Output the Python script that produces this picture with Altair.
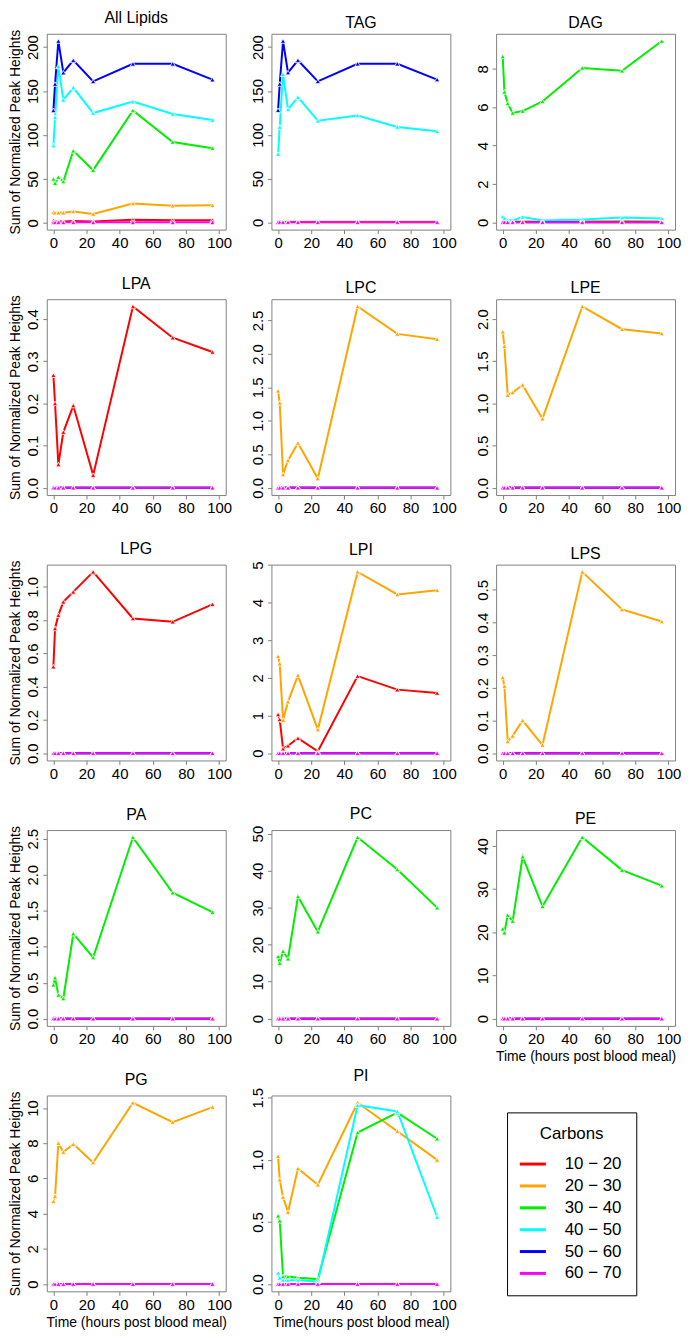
import altair as alt
import pandas as pd

TIME = [0, 1, 3, 6, 12, 24, 48, 72, 96]
X_TICKS = [0, 20, 40, 60, 80, 100]
CARBONS = ["10 − 20", "20 − 30", "30 − 40", "40 − 50", "50 − 60", "60 − 70"]
COLORS = ["#FF0000", "#FFA500", "#00EE00", "#00FFFF", "#0000FF", "#FF00FF"]
ZERO = [0, 0, 0, 0, 0, 0, 0, 0, 0]

# All Lipids
ALL_10_20 = [2.5, 2.0, 1.5, 1.5, 2.0, 1.5, 3.5, 3.0, 3.0]
ALL_20_30 = [12, 11.5, 11.5, 11.5, 13, 10, 22, 19.5, 20]
ALL_30_40 = [50, 45, 52, 47, 82, 60, 128, 92, 85]
ALL_40_50 = [88, 120, 178, 140, 154, 125, 138, 124, 117]
ALL_50_60 = [128, 158, 207, 171, 185, 161, 181, 181, 163]
ALL_60_70 = [0.5, 0.5, 0.5, 0.5, 0.5, 0.5, 0.5, 0.5, 0.5]
# TAG
TAG_10_20 = [0.1, 0.1, 0.1, 0.1, 0.1, 0.1, 0.1, 0.1, 0.1]
TAG_20_30 = [0.3, 0.3, 0.3, 0.3, 0.3, 0.3, 0.3, 0.3, 0.3]
TAG_30_40 = [0.8, 0.7, 0.8, 0.7, 0.8, 0.7, 0.9, 0.8, 0.8]
TAG_40_50 = [78, 109, 169, 129, 143, 116, 122, 109, 104]
TAG_50_60 = [128, 158, 207, 171, 185, 161, 181, 181, 163]
TAG_60_70 = [0.4, 0.4, 0.4, 0.4, 0.4, 0.4, 0.4, 0.4, 0.4]
# DAG
DAG_10_20 = [0.02, 0.02, 0.02, 0.02, 0.02, 0.02, 0.02, 0.02, 0.02]
DAG_20_30 = [0.06, 0.06, 0.05, 0.05, 0.06, 0.05, 0.06, 0.07, 0.06]
DAG_30_40 = [8.65, 6.8, 6.2, 5.7, 5.8, 6.3, 8.05, 7.9, 9.45]
DAG_40_50 = [0.3, 0.2, 0.12, 0.1, 0.28, 0.1, 0.15, 0.25, 0.2]
DAG_60_70 = [0.01, 0.01, 0.01, 0.01, 0.01, 0.01, 0.01, 0.01, 0.01]
# Lyso lipids
LPA_10_20 = [0.267, 0.2, 0.055, 0.132, 0.195, 0.03, 0.43, 0.356, 0.322]
LPC_20_30 = [1.45, 1.27, 0.2, 0.41, 0.67, 0.14, 2.71, 2.3, 2.22]
LPE_20_30 = [1.85, 1.68, 1.1, 1.13, 1.22, 0.82, 2.15, 1.88, 1.83]
LPG_10_20 = [0.52, 0.75, 0.83, 0.91, 0.97, 1.09, 0.81, 0.79, 0.895]
LPI_10_20 = [1.03, 0.9, 0.12, 0.2, 0.4, 0.05, 2.05, 1.69, 1.6]
LPI_20_30 = [2.58, 2.38, 0.88, 1.37, 2.07, 0.63, 4.82, 4.22, 4.33]
LPS_20_30 = [0.232, 0.205, 0.036, 0.053, 0.1, 0.025, 0.555, 0.44, 0.403]
# Phospholipids
PA_30_40 = [0.47, 0.57, 0.33, 0.28, 1.18, 0.85, 2.52, 1.75, 1.48]
PC_30_40 = [16.8, 15.0, 18.2, 16.2, 33.0, 23.5, 49.0, 40.3, 30.0]
PE_30_40 = [20.8, 19.9, 24.0, 22.6, 37.5, 26.0, 42.0, 34.4, 30.8]
PG_20_30 = [4.7, 5.0, 8.0, 7.5, 7.95, 6.9, 10.3, 9.2, 10.05]
PI_20_30 = [1.03, 0.84, 0.7, 0.58, 0.93, 0.8, 1.46, 1.23, 1.0]
PI_30_40 = [0.55, 0.51, 0.06, 0.06, 0.05, 0.04, 1.22, 1.38, 1.17]
PI_40_50 = [0.09, 0.05, 0.03, 0.03, 0.03, 0.02, 1.44, 1.39, 0.54]

# y tick labels per panel
T_ALL = [0, 50, 100, 150, 200]
T_DAG = [0, 2, 4, 6, 8]
T_LPA = [0.0, 0.1, 0.2, 0.3, 0.4]
T_LPC = [0.0, 0.5, 1.0, 1.5, 2.0, 2.5]
T_LPE = [0.0, 0.5, 1.0, 1.5, 2.0]
T_LPG = [0.0, 0.2, 0.4, 0.6, 0.8, 1.0]
T_LPI = [0, 1, 2, 3, 4, 5]
T_LPS = [0.0, 0.1, 0.2, 0.3, 0.4, 0.5]
T_PA = [0.0, 0.5, 1.0, 1.5, 2.0, 2.5]
T_PC = [0, 10, 20, 30, 40, 50]
T_PE = [0, 10, 20, 30, 40]
T_PG = [0, 2, 4, 6, 8, 10]
T_PI = [0.0, 0.5, 1.0, 1.5]

YTITLE = "Sum of Normalized Peak Heights"
XTITLE = "Time (hours post blood meal)"
XTITLE_PI = "Time(hours post blood meal)"

PANELS = [
    ("All Lipids", [ALL_10_20, ALL_20_30, ALL_30_40, ALL_40_50, ALL_50_60, ALL_60_70], T_ALL, "d", YTITLE, None),
    ("TAG", [TAG_10_20, TAG_20_30, TAG_30_40, TAG_40_50, TAG_50_60, TAG_60_70], T_ALL, "d", None, None),
    ("DAG", [DAG_10_20, DAG_20_30, DAG_30_40, DAG_40_50, ZERO, DAG_60_70], T_DAG, "d", None, None),
    ("LPA", [LPA_10_20, ZERO, ZERO, ZERO, ZERO, ZERO], T_LPA, ".1f", YTITLE, None),
    ("LPC", [ZERO, LPC_20_30, ZERO, ZERO, ZERO, ZERO], T_LPC, ".1f", None, None),
    ("LPE", [ZERO, LPE_20_30, ZERO, ZERO, ZERO, ZERO], T_LPE, ".1f", None, None),
    ("LPG", [LPG_10_20, ZERO, ZERO, ZERO, ZERO, ZERO], T_LPG, ".1f", YTITLE, None),
    ("LPI", [LPI_10_20, LPI_20_30, ZERO, ZERO, ZERO, ZERO], T_LPI, "d", None, None),
    ("LPS", [ZERO, LPS_20_30, ZERO, ZERO, ZERO, ZERO], T_LPS, ".1f", None, None),
    ("PA", [ZERO, ZERO, PA_30_40, ZERO, ZERO, ZERO], T_PA, ".1f", YTITLE, None),
    ("PC", [ZERO, ZERO, PC_30_40, ZERO, ZERO, ZERO], T_PC, "d", None, None),
    ("PE", [ZERO, ZERO, PE_30_40, ZERO, ZERO, ZERO], T_PE, "d", None, XTITLE),
    ("PG", [ZERO, PG_20_30, ZERO, ZERO, ZERO, ZERO], T_PG, "d", YTITLE, XTITLE),
    ("PI", [ZERO, PI_20_30, PI_30_40, PI_40_50, ZERO, ZERO], T_PI, ".1f", None, XTITLE_PI),
]

W, H = 180, 197
FONT = "Liberation Sans"

legend = alt.Legend(
    title="Carbons", orient="none", legendX=463, legendY=1085,
    direction="vertical", symbolType="M-1.25,0L1.25,0", symbolStrokeWidth=3,
    symbolSize=440, symbolOffset=0, labelOffset=20, rowPadding=2,
    strokeColor="black", fillColor="white", padding=14,
    titleAnchor="middle", titleFontSize=17, labelFontSize=17,
    titleFontWeight=400, titleFont=FONT, labelFont=FONT,
    titlePadding=9, labelColor="black", titleColor="black",
)


def make_panel(name, series, yticks, fmt, ytitle, xtitle):
    rows = []
    for k, (c, vals) in enumerate(zip(CARBONS, series)):
        for t, v in zip(TIME, vals):
            rows.append({"carbon": c, "order": k, "time": t, "value": v})
    df = pd.DataFrame(rows)
    allv = [v for s in series for v in s]
    lo, hi = min(allv), max(allv)
    pad = 0.04 * (hi - lo)
    base = alt.Chart(df).encode(
        x=alt.X("time:Q",
                scale=alt.Scale(domain=[-4, 104], nice=False, zero=False),
                axis=alt.Axis(values=X_TICKS, format="d", title=xtitle)),
        y=alt.Y("value:Q",
                scale=alt.Scale(domain=[lo - pad, hi + pad], nice=False, zero=False),
                axis=alt.Axis(values=yticks, format=fmt, title=ytitle, labelAngle=270)),
        color=alt.Color("carbon:N", scale=alt.Scale(domain=CARBONS, range=COLORS), legend=legend),
    )
    lines = base.mark_line(strokeWidth=2)
    pts = base.mark_point(shape="triangle-up", filled=True, size=28, opacity=1,
                          stroke="white", strokeWidth=0.8)
    return alt.layer(lines, pts).properties(width=W, height=H, title=name)


charts = [make_panel(*p) for p in PANELS]

chart = alt.concat(*charts, columns=3, spacing={"row": 70, "column": 46}).properties(
    bounds="flush", padding={"top": -3, "left": 0, "right": 0, "bottom": 0}
).resolve_scale(
    x="independent", y="independent", color="shared"
).configure_view(
    stroke="#808080", strokeWidth=1
).configure_axis(
    grid=False, domain=False, tickColor="#808080", tickSize=4, tickWidth=1,
    labelFont=FONT, labelFontSize=15, labelColor="black", labelPadding=2,
    titleFont=FONT, titleFontSize=14, titleFontWeight=400, titleColor="black",
    titlePadding=3,
).configure_title(
    font=FONT, fontSize=16, fontWeight=400, offset=3, anchor="middle", color="black"
)

chart.save("out.html", embed_options={"renderer": "svg", "actions": False})
